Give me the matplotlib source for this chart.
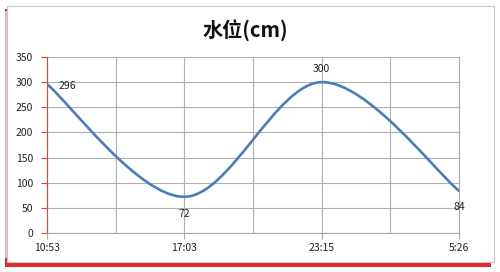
import numpy as np
import matplotlib.pyplot as plt
from matplotlib.path import Path
from matplotlib.patches import PathPatch, Rectangle

plt.rcParams['font.family'] = ['Noto Sans CJK SC', 'DejaVu Sans']

times = ['10:53', '17:03', '23:15', '5:26']
levels = [296, 72, 300, 84]
title = '水位(cm)'

fig = plt.figure(figsize=(5, 2.72), dpi=100)

# chart frame with red shadow (excel style)
fig.patches.append(Rectangle((0.01, 0.018), 0.972, 0.95, transform=fig.transFigure,
                             facecolor='#e02828', edgecolor='none', zorder=0))
fig.patches.append(Rectangle((0.013, 0.037), 0.975, 0.941, transform=fig.transFigure,
                             facecolor='white', edgecolor='#c8c8c8', lw=0.8, zorder=1))
fig.patches.append(Rectangle((0.009, 0.05), 0.004, 0.91, transform=fig.transFigure,
                             facecolor='#f2b4b4', edgecolor='none', zorder=1))

ax = fig.add_axes([0.094, 0.1434, 0.824, 0.647])
ax.set_zorder(2)
ax.set_facecolor('none')

x = np.arange(len(levels))
y = np.array(levels, dtype=float)

# smoothed line like excel (bezier through the points)
pts = np.column_stack([x, y])
ext = np.vstack([pts[0], pts, pts[-1]])
verts = [tuple(pts[0])]
codes = [Path.MOVETO]
for i in range(len(pts) - 1):
    p0, p1, p2, p3 = ext[i], ext[i + 1], ext[i + 2], ext[i + 3]
    c1 = p1 + (p2 - p0) / 6
    c2 = p2 - (p3 - p1) / 6
    verts += [tuple(c1), tuple(c2), tuple(p2)]
    codes += [Path.CURVE4] * 3
ax.add_patch(PathPatch(Path(verts, codes), facecolor='none', edgecolor='#4a7ebb',
                       lw=1.9, zorder=3, capstyle='round'))

ax.set_xlim(0, 3)
ax.set_ylim(0, 350)
ax.set_yticks(np.arange(0, 351, 50))
ax.set_xticks(x)
ax.set_xticklabels(times)
ax.set_xticks(np.arange(0.5, 3, 1), minor=True)

ax.grid(True, which='both', color='#b0b0b0', lw=0.8)
ax.tick_params(axis='both', which='major', labelsize=7.5, colors='#222222', length=4, width=0.8)
ax.tick_params(axis='x', which='major', color='#a8a8a8', pad=3)
ax.tick_params(axis='y', which='major', color='#d04848', pad=6)
ax.tick_params(axis='x', which='minor', length=0)

ax.spines['top'].set_visible(False)
ax.spines['right'].set_color('#a8a8a8')
ax.spines['bottom'].set_color('#a8a8a8')
ax.spines['left'].set_color('#d04848')
for s in ax.spines.values():
    s.set_linewidth(0.8)

# data labels
offsets = [(8, -1, 'left', 'center'), (0, -9, 'center', 'top'),
           (0, 6, 'center', 'bottom'), (0, -12, 'center', 'center')]
for xi, yi, (dx, dy, ha, va) in zip(x, levels, offsets):
    ax.annotate(str(yi), (xi, yi), xytext=(dx, dy), textcoords='offset points',
                ha=ha, va=va, fontsize=7.5, color='#222222', zorder=4)

fig.text(0.49, 0.89, title, ha='center', va='center', fontsize=14.5, fontweight='bold',
         color='#111111')

fig.savefig('out.png', dpi=100)
